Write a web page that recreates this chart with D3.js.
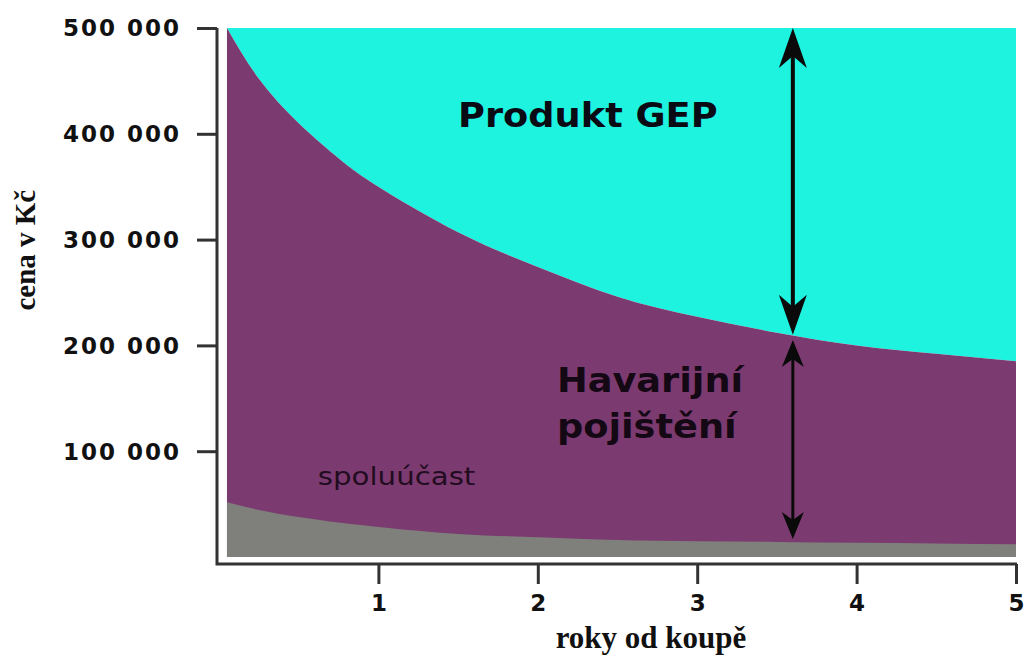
<!DOCTYPE html>
<html>
<head>
<meta charset="utf-8">
<script src="https://cdn.jsdelivr.net/npm/d3@7"></script>
<style>
  body { margin: 0; background: #fff; }
  svg { display: block; }
  .tick text { font-family: "DejaVu Sans", sans-serif; font-weight: bold; font-size: 23px; fill: #111; }
  .y-axis .tick text { letter-spacing: 2px; }
  .tick line { stroke: #333; stroke-width: 3; }
</style>
</head>
<body>
<svg width="1025" height="659"></svg>
<script>
// years since purchase
var years = [0.05, 0.25, 0.5, 0.75, 1, 1.5, 2, 2.5, 3, 3.5, 4, 4.5, 5];
// boundary between GEP product and the accident insurance (Kč)
var carValue = [500000, 452000, 410000, 377000, 350000, 307000, 274000, 246000, 227000, 212000, 200000, 192000, 185000];
// deductible (spoluúčast)
var deductible = [51700, 44500, 37800, 32500, 28300, 21700, 18700, 16000, 15000, 14200, 13500, 12800, 12000];
var priceCap = 500000;

var xTicks = [1, 2, 3, 4, 5];
var yTicks = [100000, 200000, 300000, 400000, 500000];

var arrowYear = 3.6;
var arrows = [
  {from: 500000, to: 210000, big: true},
  {from: 205000, to: 17000, big: false}
];

var svg = d3.select("svg");

var x = d3.scaleLinear().domain([0, 5]).range([219, 1016]);
var y = d3.scaleLinear().domain([0, 500000]).range([557, 28]);

var axisLeftX = 217, axisBottomY = 564;

var rows = years.map(function(t, i) {
  return {t: t, total: carValue[i], ded: deductible[i]};
});

var curve = d3.curveNatural;

// GEP part (above the value curve)
svg.append("path")
    .datum(rows)
    .attr("fill", "#1ef3e0")
    .attr("d", d3.area().curve(curve)
      .x(function(d) { return x(d.t); })
      .y0(function(d) { return y(d.total); })
      .y1(function() { return y(priceCap); }));

svg.append("path")
    .datum(rows)
    .attr("fill", "#7c3b70")
    .attr("d", d3.area().curve(curve)
      .x(function(d) { return x(d.t); })
      .y0(y(0))
      .y1(function(d) { return y(d.total); }));

svg.append("path")
    .datum(rows)
    .attr("fill", "#7f7f7b")
    .attr("d", d3.area().curve(curve)
      .x(function(d) { return x(d.t); })
      .y0(y(0))
      .y1(function(d) { return y(d.ded); }));

// axes
var fmt = function(d) { return d3.format(",")(d).replace(/,/g, " "); };

var gy = svg.append("g")
    .attr("class", "y-axis")
    .attr("transform", "translate(" + axisLeftX + ",0)")
    .call(d3.axisLeft(y).tickValues(yTicks).tickFormat(fmt).tickSize(20).tickPadding(16).tickSizeOuter(0));
gy.select(".domain").remove();
gy.selectAll(".tick text").attr("dy", "0.34em");

var gx = svg.append("g")
    .attr("transform", "translate(0," + axisBottomY + ")")
    .call(d3.axisBottom(x).tickValues(xTicks).tickFormat(d3.format("d")).tickSize(20).tickPadding(11).tickSizeOuter(0));
gx.select(".domain").remove();

svg.append("path")
    .attr("d", "M" + axisLeftX + "," + y(priceCap) + "V" + axisBottomY + "H" + (x(5) + 1))
    .attr("fill", "none")
    .attr("stroke", "#333")
    .attr("stroke-width", 3);

// axis titles
svg.append("text")
    .attr("x", x(2.71))
    .attr("y", 648)
    .attr("text-anchor", "middle")
    .style("font-family", "'Liberation Serif', serif")
    .style("font-weight", "bold")
    .style("font-size", "31px")
    .attr("fill", "#111")
    .text("roky od koupě");

svg.append("text")
    .attr("transform", "translate(35," + y(290000) + ") rotate(-90)")
    .attr("text-anchor", "middle")
    .style("font-family", "'Liberation Serif', serif")
    .style("font-weight", "bold")
    .style("font-size", "29px")
    .attr("fill", "#111")
    .text("cena v Kč");

// arrows
function arrowHead(tipX, tipY, dir, len, half) {
  // dir = -1 points up, 1 points down
  var back = tipY - dir * len;
  var notch = tipY - dir * len * 0.7;
  return "M" + tipX + "," + tipY +
    "L" + (tipX + half) + "," + back +
    "L" + tipX + "," + notch +
    "L" + (tipX - half) + "," + back + "Z";
}

var ax = x(arrowYear);
arrows.forEach(function(a) {
  var y1 = y(a.from), y2 = y(a.to);
  var len = a.big ? 40 : 27, half = a.big ? 14 : 11;
  svg.append("line")
      .attr("x1", ax).attr("x2", ax)
      .attr("y1", y1 + len * 0.6).attr("y2", y2 - len * 0.6)
      .attr("stroke", "#0a0a0a")
      .attr("stroke-width", a.big ? 4 : 3);
  svg.append("path").attr("d", arrowHead(ax, y1, -1, len, half)).attr("fill", "#0a0a0a");
  svg.append("path").attr("d", arrowHead(ax, y2, 1, len, half)).attr("fill", "#0a0a0a");
});

// labels
function label(t, v, txt, size, weight, color, sx) {
  svg.append("text")
      .attr("transform", "translate(" + x(t) + "," + y(v) + ") scale(" + sx + ",1)")
      .style("font-family", "'DejaVu Sans', sans-serif")
      .style("font-weight", weight)
      .style("font-size", size + "px")
      .attr("fill", color)
      .text(txt);
}

label(1.5, 406000, "Produkt GEP", 34, "bold", "#0a0a14", 1.08);
label(2.12, 156000, "Havarijní", 34, "bold", "#140814", 1.08);
label(2.12, 112500, "pojištění", 34, "bold", "#140814", 1.08);
label(0.62, 68000, "spoluúčast", 25, "normal", "#220c20", 1.17);
</script>
</body>
</html>
